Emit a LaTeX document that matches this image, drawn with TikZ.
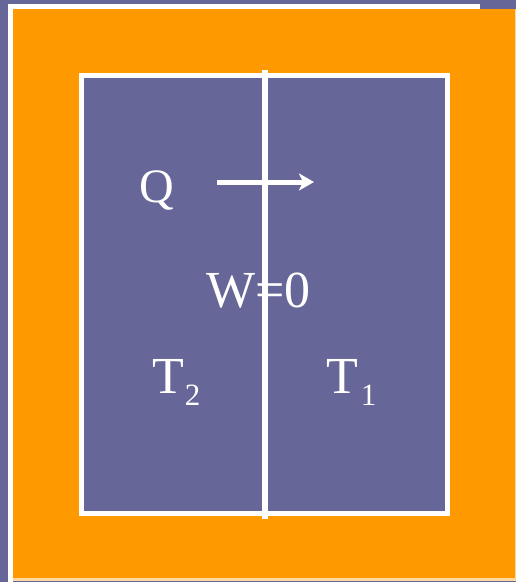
\documentclass[tikz,border=0pt]{standalone}
\usepackage{fontspec}
\setmainfont{Liberation Serif}
\usetikzlibrary{arrows.meta}
\definecolor{bgpurple}{HTML}{666699}
\definecolor{frameorange}{HTML}{FF9900}
\definecolor{lightedge}{HTML}{FFD8A0}
\tikzset{
  wline/.style={draw=white, line width=5pt},
  lbl/.style={text=white, inner sep=0pt, anchor=base west},
  bigfont/.style={font=\fontsize{52}{52}\selectfont},
}
\newcommand{\subfig}[1]{\raisebox{-12pt}{\fontsize{31}{31}\selectfont #1}}
\begin{document}
\begin{tikzpicture}[x=1pt,y=-1pt]
\useasboundingbox (0,0) rectangle (516,582);
\fill[bgpurple] (0,0) rectangle (516,582);
% white edge (top and left)
\fill[white] (8,4) rectangle (480,9);
\fill[white] (8,4) rectangle (13,582);
% orange frame
\fill[frameorange] (13,9) rectangle (516,578);
\fill[lightedge] (13,578) rectangle (516,580.5);
\fill[lightedge] (514.8,9) rectangle (516,578);
% inner box
\draw[wline, fill=bgpurple] (81.5,75) rectangle (447,513);
% separating wall
\coordinate (wt) at (265,70);
\coordinate (wb) at (265,519);
\draw[draw=white, line width=5.5pt] (wt) -- (wb);
% heat arrow
\coordinate (qa) at (217,182);
\coordinate (qb) at (314,182);
\draw[wline, -{Stealth[length=15pt,width=17pt,inset=4pt]}] (qa) -- (qb);
% labels
\node[lbl, font=\fontsize{48}{48}\selectfont] (Q) at (139,202) {Q};
\node[lbl, bigfont] (W) at (206,307) {W=0};
\node[lbl, bigfont] (T2) at (152,393) {T\kern1pt\subfig{2}};
\node[lbl, bigfont] (T1) at (326,393) {T\kern3pt\subfig{1}};
\end{tikzpicture}
\end{document}
